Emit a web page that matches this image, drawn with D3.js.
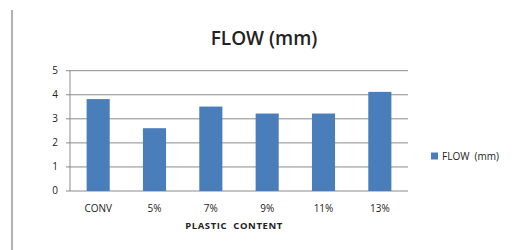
<!DOCTYPE html>
<html>
  <meta charset="utf-8">
  <head>
    <script src="https://d3js.org/d3.v7.min.js"></script>
    <style>
      body { margin: 0; background: #fff; }
      text { font-family: "Open Sans", "Noto Sans", sans-serif; fill: #222; }
    </style>
  </head>
  <body>
    <div id="viz"></div>
    <script type="text/javascript">
      // chart data
      var categories = ["CONV", "5%", "7%", "9%", "11%", "13%"];
      var flow = [3.82, 2.61, 3.51, 3.22, 3.22, 4.12];
      var yTicks = [0, 1, 2, 3, 4, 5];
      var seriesName = "FLOW  (mm)";

      var margin = {top: 70.7, left: 70, right: 104, bottom: 59};
      var width = 512 - margin.left - margin.right;
      var height = 250 - margin.top - margin.bottom;

      var svg = d3.select("#viz")
        .append("svg")
          .attr("width", 512)
          .attr("height", 250);

      // left border line of the picture
      svg.append("line")
        .attr("x1", 12).attr("x2", 12)
        .attr("y1", 10).attr("y2", 250)
        .attr("stroke", "#999").attr("stroke-width", 1.5);

      svg.append("text")
        .attr("x", 264).attr("y", 45)
        .attr("text-anchor", "middle")
        .style("font-size", "19px")
        .style("font-weight", "600")
        .text("FLOW (mm)");

      var g = svg.append("g")
        .attr("transform", "translate(" + margin.left + "," + margin.top + ")");

      var x = d3.scaleBand()
        .domain(categories)
        .range([0, width])
        .paddingInner(0.59)
        .paddingOuter(0.295);

      var y = d3.scaleLinear()
        .domain([0, 5])
        .range([height, 0]);

      // gridlines
      g.selectAll(".grid")
        .data(yTicks)
        .enter()
        .append("line")
          .attr("x1", -4)
          .attr("x2", width)
          .attr("y1", (d) => y(d))
          .attr("y2", (d) => y(d))
          .attr("stroke", "#8a8a8a")
          .attr("stroke-width", 1);

      // y axis line
      g.append("line")
        .attr("x1", 0).attr("x2", 0)
        .attr("y1", 0).attr("y2", height)
        .attr("stroke", "#8a8a8a");

      // y tick labels
      g.selectAll(".ylab")
        .data(yTicks)
        .enter()
        .append("text")
          .attr("x", -12)
          .attr("y", (d) => y(d))
          .attr("dy", "0.35em")
          .attr("text-anchor", "end")
          .style("font-size", "10px")
          .text((d) => d);

      // bars
      g.selectAll(".bar")
        .data(flow)
        .enter()
        .append("rect")
          .attr("x", (d, i) => x(categories[i]))
          .attr("y", (d) => y(d))
          .attr("width", x.bandwidth())
          .attr("height", (d) => height - y(d))
          .attr("fill", "#4a7ebb");

      // x labels
      g.selectAll(".xlab")
        .data(categories)
        .enter()
        .append("text")
          .attr("x", (d) => x(d) + x.bandwidth() / 2)
          .attr("y", height + 21)
          .attr("text-anchor", "middle")
          .style("font-size", "10px")
          .text((d) => d);

      svg.append("text")
        .attr("x", 234).attr("y", 229)
        .attr("text-anchor", "middle")
        .style("font-size", "9.5px")
        .style("font-weight", "700")
        .style("letter-spacing", "0.6px")
        .style("white-space", "pre")
        .text("PLASTIC  CONTENT");

      // legend
      svg.append("rect")
        .attr("x", 431).attr("y", 152.5)
        .attr("width", 7).attr("height", 7)
        .attr("fill", "#4a7ebb");
      svg.append("text")
        .attr("x", 442).attr("y", 160)
        .style("font-size", "10px")
        .style("white-space", "pre")
        .text(seriesName);
    </script>
  </body>
</html>
